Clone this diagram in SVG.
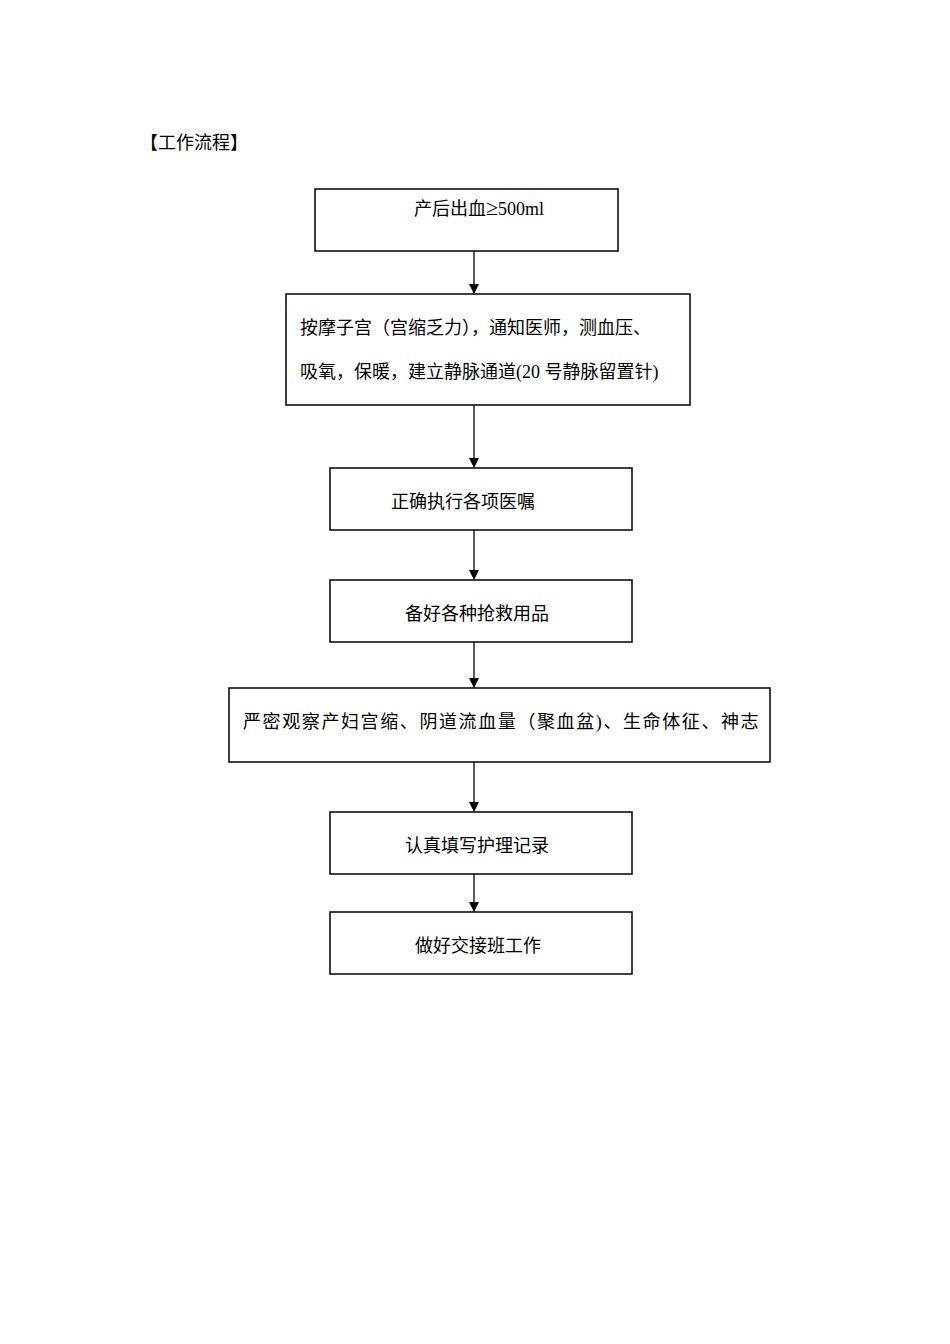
<svg xmlns="http://www.w3.org/2000/svg" width="950" height="1344" viewBox="0 0 950 1344">
<style>
rect{fill:#fff;stroke:#000;stroke-width:1.5}
text{font-family:"Liberation Serif","Noto Sans CJK SC",serif;font-size:18px;fill:#000}
line{stroke:#000;stroke-width:1.3}
</style>
<defs><marker id="a" markerWidth="10" markerHeight="10" refX="9" refY="5" orient="auto" markerUnits="userSpaceOnUse"><path d="M0,0 L10,5 L0,10 Z" fill="#000"/></marker></defs>
<rect x="0" y="0" width="950" height="1344" style="stroke:none"/>
<text x="140" y="149">【工作流程】</text>
<g id="connectors">
<line x1="474" y1="251" x2="474" y2="293" marker-end="url(#a)"/>
<line x1="474" y1="405" x2="474" y2="467" marker-end="url(#a)"/>
<line x1="474" y1="530" x2="474" y2="579" marker-end="url(#a)"/>
<line x1="474" y1="642" x2="474" y2="687" marker-end="url(#a)"/>
<line x1="474" y1="762" x2="474" y2="811" marker-end="url(#a)"/>
<line x1="474" y1="874" x2="474" y2="911" marker-end="url(#a)"/>
</g>
<g id="n1"><rect x="315" y="189" width="303" height="62"/><text x="414" y="215">产后出血<tspan font-size="22">≥</tspan>500ml</text></g>
<g id="n2"><rect x="286" y="294" width="404" height="111"/><text x="300" y="334">按摩子宫（宫缩乏力），通知医师，测血压、</text><text x="300" y="378">吸氧，保暖，建立静脉通道(20 号静脉留置针)</text></g>
<g id="n3"><rect x="330" y="468" width="302" height="62"/><text x="391" y="508">正确执行各项医嘱</text></g>
<g id="n4"><rect x="330" y="580" width="302" height="62"/><text x="405" y="620">备好各种抢救用品</text></g>
<g id="n5"><rect x="229" y="688" width="541" height="74"/><text x="243" y="728" letter-spacing="1.6">严密观察产妇宫缩、阴道流血量（聚血盆)、生命体征、神志</text></g>
<g id="n6"><rect x="330" y="812" width="302" height="62"/><text x="405" y="852">认真填写护理记录</text></g>
<g id="n7"><rect x="330" y="912" width="302" height="62"/><text x="415" y="952">做好交接班工作</text></g>
</svg>
